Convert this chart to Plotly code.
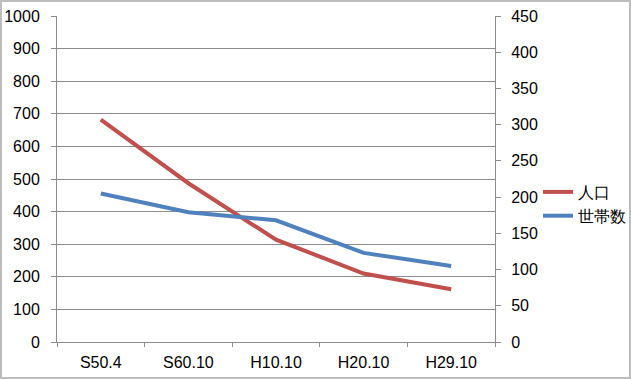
import plotly.graph_objects as go

categories = ["S50.4", "S60.10", "H10.10", "H20.10", "H29.10"]
population = [682, 487, 314, 210, 162]      # 人口 (left axis)
households = [205, 179, 168, 123, 105]      # 世帯数 (right axis)

W, H = 631, 379
L, R, T, B = 57, 136, 16, 37
pw, ph = W - L - R, H - T - B

red = "#C0504D"
blue = "#4F81BD"
grid = "#8C8C8C"
font = dict(family="Liberation Sans, Arial, sans-serif", size=16, color="#000000")

fig = go.Figure()
fig.add_trace(go.Scatter(x=categories, y=population, name="人口", mode="lines",
                         line=dict(color=red, width=4), yaxis="y"))
fig.add_trace(go.Scatter(x=categories, y=households, name="世帯数", mode="lines",
                         line=dict(color=blue, width=4), yaxis="y2"))

fig.update_layout(
    width=W, height=H,
    margin=dict(l=L, r=R, t=T, b=B, pad=0, autoexpand=False),
    paper_bgcolor="white", plot_bgcolor="white",
    font=font,
    showlegend=True,
    legend=dict(x=(538 - L) / pw, y=(H - B - 175) / ph, xanchor="left", yanchor="top",
                bgcolor="rgba(0,0,0,0)", font=dict(size=16), itemwidth=30,
                tracegroupgap=0),
    xaxis=dict(type="category", range=[-0.5, len(categories) - 0.5], automargin=False,
               showgrid=False, showline=True, linecolor=grid, linewidth=1,
               ticks="outside", tickson="boundaries", ticklen=4, tickcolor=grid,
               ticklabelstandoff=6, zeroline=False),
    yaxis=dict(range=[0, 1000], dtick=100, showgrid=True, gridcolor=grid, gridwidth=1,
               automargin=False,
               showline=True, linecolor=grid, linewidth=1, ticks="outside", ticklen=5,
               tickcolor=grid, ticklabelstandoff=8, zeroline=False),
    yaxis2=dict(range=[0, 450], dtick=50, overlaying="y", side="right", showgrid=False,
                automargin=False,
                showline=True, linecolor=grid, linewidth=1, ticks="outside", ticklen=5,
                tickcolor=grid, ticklabelstandoff=7, zeroline=False),
)

# outer chart frame
fig.add_shape(type="rect", xref="paper", yref="paper",
              x0=(1 - L) / pw, x1=(W - 1 - L) / pw,
              y0=(-(B - 1)) / ph, y1=(H - 1 - B) / ph,
              line=dict(color="#BDBDBD", width=2), layer="below")

fig.write_html("out.html", config={"displayModeBar": False},
               post_script="document.body.style.margin='0';document.body.style.overflow='hidden';")
